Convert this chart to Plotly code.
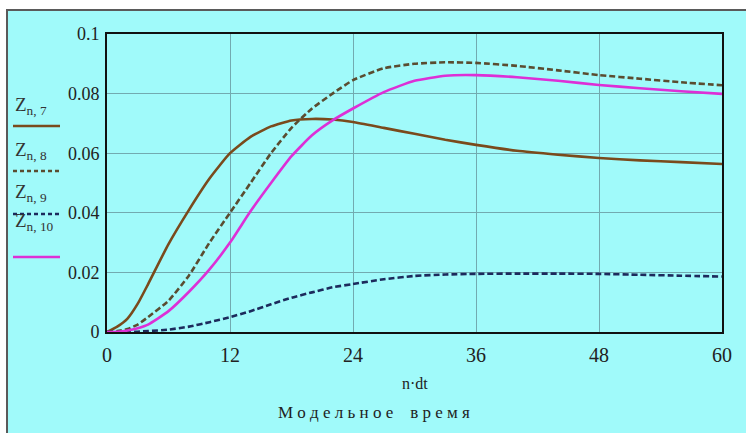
import plotly.graph_objects as go

# ---- data ----
t = [0, 1, 2, 3, 4, 6, 8, 10, 12, 14, 16, 18, 20, 22, 24, 27, 30, 33, 36, 40, 44, 48, 52, 56, 60]
z7 = [0, 0.0018, 0.0045, 0.0095, 0.016, 0.0295, 0.041, 0.0515, 0.060, 0.0655, 0.069, 0.071, 0.0715,
      0.0713, 0.0705, 0.0685, 0.0665, 0.0645, 0.0628, 0.0608, 0.0595, 0.0584, 0.0576, 0.057, 0.0564]
z8 = [0, 0.0003, 0.001, 0.0025, 0.005, 0.0105, 0.019, 0.030, 0.040, 0.050, 0.060, 0.0685, 0.075,
      0.080, 0.0845, 0.0885, 0.090, 0.0905, 0.0903, 0.0893, 0.0878, 0.0862, 0.0850, 0.0838, 0.0828]
z9 = [0, 0, 0, 0.0001, 0.0003, 0.0008, 0.0018, 0.0033, 0.005, 0.007, 0.0093, 0.0115, 0.0133, 0.015,
      0.0161, 0.0177, 0.0188, 0.0193, 0.0195, 0.0196, 0.0196, 0.0195, 0.0192, 0.0189, 0.0186]
z10 = [0, 0.0001, 0.0005, 0.0013, 0.0025, 0.007, 0.0135, 0.021, 0.030, 0.0405, 0.050, 0.059, 0.066,
       0.071, 0.075, 0.0805, 0.0843, 0.086, 0.0862, 0.0855, 0.0843, 0.0829, 0.0818, 0.0808, 0.0799]

x_ticks = [0, 12, 24, 36, 48, 60]
y_ticks = [0, 0.02, 0.04, 0.06, 0.08, 0.1]
y_ticktext = ["0", "0.02", "0.04", "0.06", "0.08", "0.1"]
series_names = ["n, 7", "n, 8", "n, 9", "n, 10"]
series_colors = ["#7a4a1c", "#5a4c30", "#1c2a5c", "#dd2fd6"]
series_dash = ["solid", "dash", "dash", "solid"]
x_title = "n·dt"
caption = "М о д е л ь н о е    в р е м я"

W, H = 746, 433
L, R, T, B = 107, 24, 34, 101
pw, ph = W - L - R, H - T - B


def px(xp):
    return (xp - L) / pw


def py(yp):
    return (H - B - yp) / ph


FONT = "Liberation Serif"
BG = "#a0fafa"

fig = go.Figure()
for ys, name, col, dash in zip([z7, z8, z9, z10], series_names, series_colors, series_dash):
    fig.add_trace(go.Scatter(
        x=t, y=ys, mode="lines", name="Z" + name,
        line=dict(color=col, width=2.6, dash="6px,3px" if dash == "dash" else "solid",
                  shape="spline", smoothing=0.5),
        showlegend=False,
    ))

shapes = []
# outer frame
shapes.append(dict(type="rect", xref="paper", yref="paper",
                   x0=px(7), x1=px(W + 20), y0=py(H + 20), y1=py(10),
                   line=dict(color="#5a5a5a", width=2), fillcolor=BG, layer="below"))

annotations = []
legend_text_y = [106, 151, 193, 222]
legend_line_y = [126, 171, 214, 257]
for name, col, dash, ty, ly in zip(series_names, series_colors, series_dash, legend_text_y, legend_line_y):
    annotations.append(dict(xref="paper", yref="paper", x=px(13), y=py(ty), xanchor="left", yanchor="middle",
                            text="Z<sub>" + name + "</sub>", showarrow=False,
                            font=dict(family=FONT, size=19, color="#333333")))
    shapes.append(dict(type="line", xref="paper", yref="paper", x0=px(13), x1=px(60), y0=py(ly), y1=py(ly),
                       line=dict(color=col, width=2.6, dash="4px,3px" if dash == "dash" else "solid")))

annotations.append(dict(xref="paper", yref="paper", x=px(415), y=py(383), xanchor="center", yanchor="middle",
                        text=x_title, showarrow=False, font=dict(family=FONT, size=16, color="#222222")))
annotations.append(dict(xref="paper", yref="paper", x=px(374), y=py(412), xanchor="center", yanchor="middle",
                        text=caption, showarrow=False, font=dict(family=FONT, size=17, color="#222222")))

fig.update_layout(
    width=W, height=H,
    margin=dict(l=L, r=R, t=T, b=B, pad=0),
    paper_bgcolor="white",
    plot_bgcolor=BG,
    shapes=shapes,
    annotations=annotations,
    font=dict(family=FONT, size=18, color="#222222"),
    xaxis=dict(range=[0, 60], tickvals=x_ticks, ticks="", showgrid=True, gridcolor="#72aab0", gridwidth=1,
               zeroline=False, showline=True, linecolor="#111111", linewidth=2, mirror=True,
               tickfont=dict(family=FONT, size=20, color="#222222"), ticklabelstandoff=4),
    yaxis=dict(range=[0, 0.1], tickvals=y_ticks, ticktext=y_ticktext, ticks="", showgrid=True,
               gridcolor="#72aab0", gridwidth=1, zeroline=False, showline=True, linecolor="#111111",
               linewidth=2, mirror=True, tickfont=dict(family=FONT, size=18, color="#222222"),
               ticklabelstandoff=2),
)

fig.write_html("out.html", config={"displayModeBar": False},
               post_script="document.body.style.margin='0';document.body.style.padding='0';")
